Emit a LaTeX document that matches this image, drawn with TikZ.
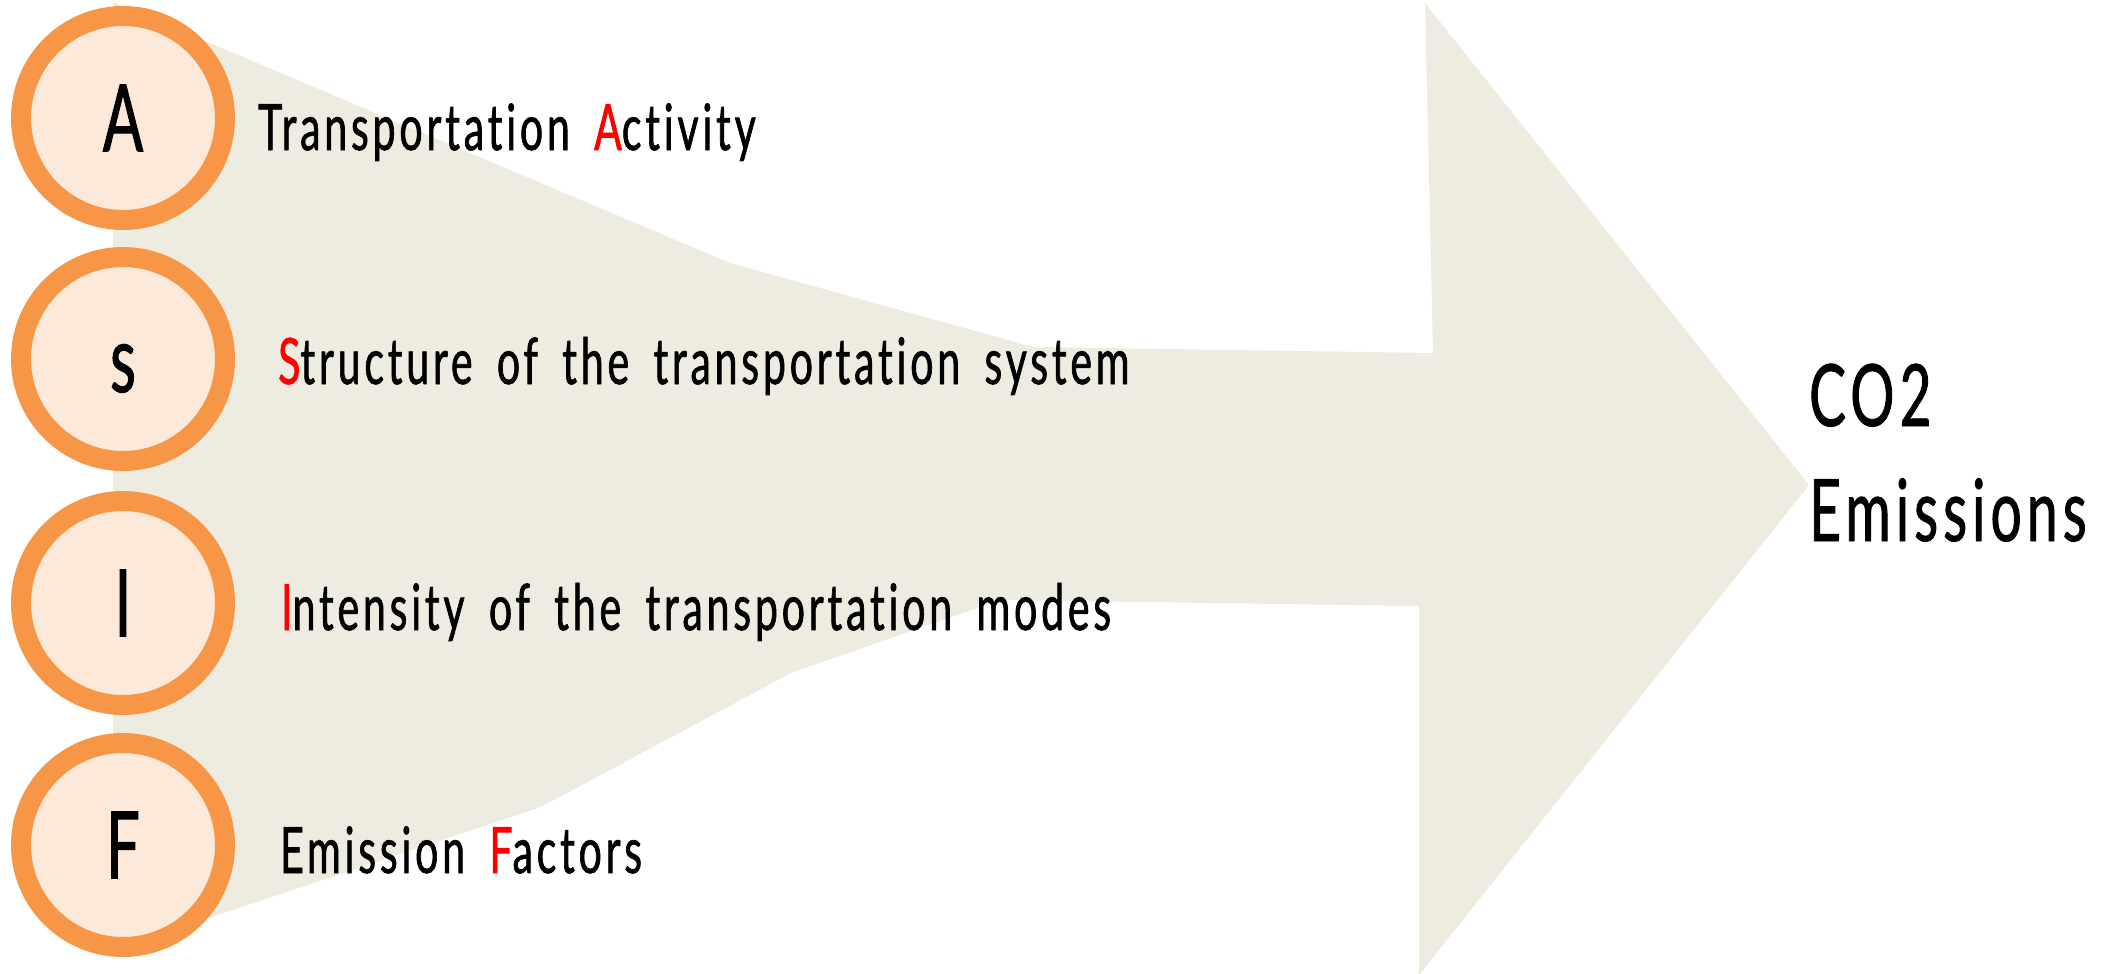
\documentclass[tikz,border=0pt]{standalone}
\usepackage{fontspec}
\setmainfont{Lato}
\newfontfamily\condfont[FakeStretch=0.64, LetterSpace=6, FakeBold=1, WordSpace=1.7, Ligatures={CommonOff}]{Lato}
\definecolor{ringorange}{HTML}{F79646}
\definecolor{ringfill}{HTML}{FDE9D9}
\definecolor{bandtan}{HTML}{EEECE1}
\definecolor{keyred}{HTML}{FF0000}
\tikzset{
  factor/.style={circle, minimum size=204pt, inner sep=0pt, line width=20pt,
    draw=ringorange, fill=ringfill, text=black,
    font=\condfont\fontsize{93}{110}\selectfont},
  factortext/.style={anchor=base west, inner sep=0pt, text=black,
    font=\condfont\fontsize{64}{77}\selectfont},
  resulttext/.style={anchor=base west, inner sep=0pt, text=black,
    font=\condfont\fontsize{86}{103}\selectfont}
}
\newcommand{\key}[1]{\textcolor{keyred}{#1}}
\begin{document}
\begin{tikzpicture}[x=1pt, y=-1pt]
\useasboundingbox (0,0) rectangle (2110,974);

% funnel band merging into the big arrow
\fill[bandtan] (113,2) -- (730,263) -- (1033,347) -- (1433,353) -- (1425,3)
  -- (1809,485) -- (1419,975) -- (1419,606) -- (1000,600) -- (791,673)
  -- (541,807) -- (113,950) -- cycle;

% factor circles
\node[factor] (cA) at (123,118) {\vphantom{A}A};
\node[factor] (cS) at (123,359) {\vphantom{A}s};
\node[factor] (cI) at (123,603) {\vphantom{A}I};
\node[factor] (cF) at (123,845) {\vphantom{A}F};

% factor descriptions
\node[factortext] (tA) at (258,150) {Transportation \key{A}ctivity};
\node[factortext] (tS) at (278,384) {\key{S}tructure of the transportation system};
\node[factortext] (tI) at (281,630) {\key{I}ntensity of the transportation modes};
\node[factortext] (tF) at (280,873) {Emission \key{F}actors};

% result
\node[resulttext] (co2) at (1809,426) {CO2};
\node[resulttext] (em) at (1809,541) {Emissions};
\end{tikzpicture}
\end{document}
